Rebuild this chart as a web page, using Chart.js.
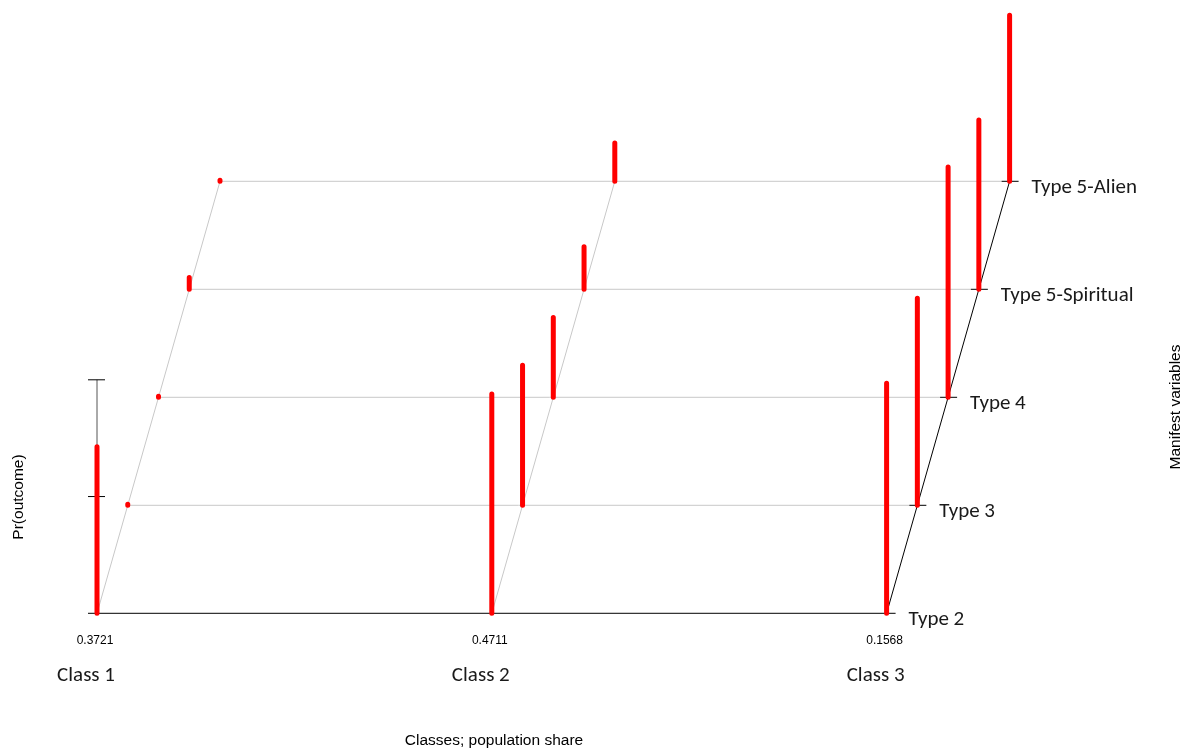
<!DOCTYPE html>
<html>
<head>
<meta charset="utf-8">
<title>Latent class profiles</title>
<script src="https://cdn.jsdelivr.net/npm/chart.js@4.4.1/dist/chart.umd.min.js"></script>
<style>
  html, body { margin: 0; padding: 0; background: #ffffff; }
  #wrap { position: relative; width: 1189px; height: 749px; }
</style>
</head>
<body>
<div id="wrap"><canvas id="chart"></canvas></div>
<script>
// Classes and their population shares
const classes = ['Class 1', 'Class 2', 'Class 3'];
const classShares = ['0.3721', '0.4711', '0.1568'];

// Manifest variables, front row first
const variables = ['Type 2', 'Type 3', 'Type 4', 'Type 5-Spiritual', 'Type 5-Alien'];

// Pr(outcome) for each class, one value per manifest variable
const class1Probs = [0.713, 0.004, 0.004, 0.051, 0.005];
const class2Probs = [0.939, 0.600, 0.342, 0.182, 0.164];
const class3Probs = [0.985, 0.887, 0.986, 0.725, 0.711];
const classProbs = [class1Probs, class2Probs, class3Probs];

// Ticks on the Pr(outcome) axis
const probTicks = [0, 0.5, 1];

// Oblique projection: each row further back shifts right and up
const PX_PER_CLASS = 394.8;           // pixels per class step on x
const PX_PER_PROB = 233.5;            // pixels per unit probability on y
const ROW_SKEW = 30.75 / PX_PER_CLASS; // x shift per row (class units)
const ROW_DEPTH = 108 / PX_PER_PROB;  // y shift per row (probability units)
const ORIGIN_X = 97, ORIGIN_Y = 613.3, W = 1189, H = 749;

const px = p => p / PX_PER_CLASS;     // pixel offset -> x units
const gap = { x: null, y: null };

const baseX = (ci, k) => ci + k * ROW_SKEW;
const baseY = k => k * ROW_DEPTH;

// Floor grid: rows in light grey
const rowLines = [];
for (let k = 1; k < variables.length; k++) {
  rowLines.push({ x: baseX(0, k), y: baseY(k) },
                { x: baseX(classes.length - 1, k) - px(8), y: baseY(k) }, gap);
}
// Diagonals behind the first two classes
const diagGrey = [];
for (let ci = 0; ci < classes.length - 1; ci++) {
  diagGrey.push({ x: baseX(ci, 0), y: 0 },
                { x: baseX(ci, variables.length - 1), y: baseY(variables.length - 1) }, gap);
}
// Black frame: front row, right diagonal, row ticks on the right
const last = classes.length - 1, lastRow = variables.length - 1;
const frame = [
  { x: -px(9), y: 0 }, { x: baseX(last, 0) + px(9), y: 0 }, gap,
  { x: baseX(last, 0), y: 0 }, { x: baseX(last, lastRow), y: baseY(lastRow) }, gap
];
for (let k = 1; k < variables.length; k++) {
  frame.push({ x: baseX(last, k) - px(8), y: baseY(k) },
             { x: baseX(last, k) + px(9), y: baseY(k) }, gap);
}
// Probability axis ticks
probTicks.slice(1).forEach(t => {
  frame.push({ x: -px(9), y: t }, { x: px(8), y: t }, gap);
});
const probAxis = [{ x: 0, y: probTicks[0] }, { x: 0, y: probTicks[probTicks.length - 1] }];

// Red bars: one vertical segment per class and variable
const bars = [];
classProbs.forEach((probs, ci) => {
  probs.forEach((p, k) => {
    bars.push({ x: baseX(ci, k), y: baseY(k) }, { x: baseX(ci, k), y: baseY(k) + p }, gap);
  });
});

// Lower "order" is painted later, i.e. on top
const seg = (data, color, width, order, extra) => Object.assign({
  data, borderColor: color, borderWidth: width, showLine: true, spanGaps: false,
  pointRadius: 0, pointHoverRadius: 0, fill: false, tension: 0, order
}, extra || {});

const LABEL_FONT = '21px Carlito, Calibri, Lato, sans-serif';
const TITLE_FONT = '15.5px "Liberation Sans", Arial, sans-serif';

const labelsPlugin = {
  id: 'labels3d',
  afterDatasetsDraw(chart) {
    const { ctx, scales: { x, y } } = chart;
    ctx.save();
    ctx.fillStyle = '#1a1a1a';
    ctx.textBaseline = 'middle';

    // Variable names next to the right-hand frame
    ctx.font = LABEL_FONT;
    ctx.textAlign = 'left';
    variables.forEach((v, k) => {
      ctx.fillText(v, x.getPixelForValue(baseX(last, k)) + 22, y.getPixelForValue(baseY(k)) + 6);
    });

    // Class names and shares under the front row
    classes.forEach((c, ci) => {
      const cx = x.getPixelForValue(baseX(ci, 0));
      ctx.textAlign = 'center';
      ctx.font = '12px "Liberation Sans", Arial, sans-serif';
      ctx.fillStyle = '#000000';
      ctx.fillText(classShares[ci], cx - 2, 641);
      ctx.font = LABEL_FONT;
      ctx.fillStyle = '#1a1a1a';
      ctx.fillText(c, cx - 11, 676);
    });

    // Axis titles
    ctx.fillStyle = '#000000';
    ctx.font = TITLE_FONT;
    ctx.textAlign = 'center';
    ctx.fillText('Classes; population share', 494, 741);

    ctx.save();
    ctx.translate(19, 497);
    ctx.rotate(-Math.PI / 2);
    ctx.fillText('Pr(outcome)', 0, 0);
    ctx.restore();

    ctx.save();
    ctx.translate(1176, 407);
    ctx.rotate(-Math.PI / 2);
    ctx.fillText('Manifest variables', 0, 0);
    ctx.restore();

    ctx.restore();
  }
};

new Chart(document.getElementById('chart'), {
  type: 'scatter',
  data: {
    datasets: [
      seg(rowLines, '#c8c8c8', 1, 5),
      seg(diagGrey, '#c8c8c8', 1, 4),
      seg(probAxis, '#555555', 1, 3),
      seg(frame, '#000000', 1, 2),
      seg(bars, '#ff0000', 5, 1, { borderCapStyle: 'round' })
    ]
  },
  options: {
    responsive: true,
    maintainAspectRatio: false,
    animation: false,
    layout: { padding: 0 },
    plugins: { legend: { display: false }, tooltip: { enabled: false } },
    events: [],
    scales: {
      x: { type: 'linear', display: false,
           min: -ORIGIN_X / PX_PER_CLASS, max: (W - ORIGIN_X) / PX_PER_CLASS },
      y: { type: 'linear', display: false,
           min: (ORIGIN_Y - H) / PX_PER_PROB, max: ORIGIN_Y / PX_PER_PROB }
    }
  },
  plugins: [labelsPlugin]
});
</script>
</body>
</html>
